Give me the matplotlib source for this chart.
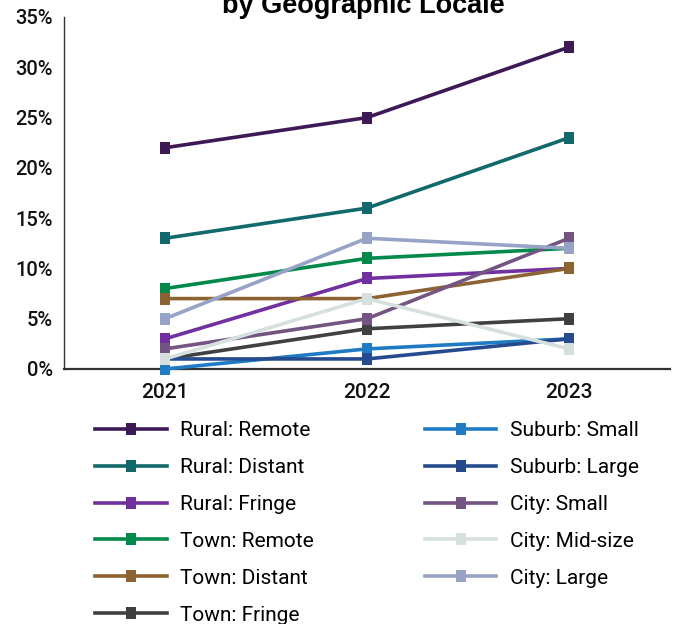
import matplotlib
matplotlib.use("Agg")
import matplotlib.pyplot as plt

plt.rcParams['font.family'] = ['Roboto', 'DejaVu Sans']

years = ["2021", "2022", "2023"]
series_names = ["Rural: Remote", "Rural: Distant", "Rural: Fringe", "Town: Remote",
                "Town: Distant", "Town: Fringe", "Suburb: Small", "Suburb: Large",
                "City: Small", "City: Mid-size", "City: Large"]
rural_remote = [22, 25, 32]
rural_distant = [13, 16, 23]
rural_fringe = [3, 9, 10]
town_remote = [8, 11, 12]
town_distant = [7, 7, 10]
town_fringe = [1, 4, 5]
suburb_small = [0, 2, 3]
suburb_large = [1, 1, 3]
city_small = [2, 5, 13]
city_midsize = [1, 7, 2]
city_large = [5, 13, 12]
values = [rural_remote, rural_distant, rural_fringe, town_remote, town_distant,
          town_fringe, suburb_small, suburb_large, city_small, city_midsize, city_large]
colors = ["#3d1a56", "#12696b", "#7030a0", "#00894b", "#8c6332", "#404040",
          "#1f7bc4", "#254b8e", "#735482", "#d6e0de", "#97a3c6"]
yticks = [0, 5, 10, 15, 20, 25, 30, 35]

fig = plt.figure(figsize=(6.75, 6.24), dpi=100)
ax = fig.add_axes([64/675, 1-369/624, (670-64)/675, (369-17)/624])

rect = [(-0.38, -0.5), (0.38, -0.5), (0.38, 0.5), (-0.38, 0.5), (-0.38, -0.5)]
x = list(range(len(years)))
handles = []
for name, vals, c in zip(series_names, values, colors):
    h, = ax.plot(x, vals, color=c, lw=2.6, marker=rect, markersize=8.6,
                 markeredgewidth=0, label=name, clip_on=False, zorder=3)
    handles.append(h)

ax.set_xlim(-0.5, 2.5)
ax.set_ylim(0, 35)
ax.set_xticks(x)
ax.set_xticklabels(years)
ax.set_yticks(yticks)
ax.set_yticklabels([f"{v}%" for v in yticks])
ax.tick_params(axis='both', length=0)
ax.tick_params(axis='y', pad=8, labelsize=14.5)
ax.tick_params(axis='x', pad=10, labelsize=15)
for lab in ax.get_xticklabels() + ax.get_yticklabels():
    lab.set_fontweight('medium')
    lab.set_color('#111111')

for s in ['top', 'right']:
    ax.spines[s].set_visible(False)
ax.spines['left'].set_color('#333333')
ax.spines['left'].set_linewidth(1.0)
ax.spines['bottom'].set_color('#333333')
ax.spines['bottom'].set_linewidth(1.6)

fig.text(363/675, 1 - 13/624, "by Geographic Locale", ha='center', va='baseline',
         fontsize=19.5, fontweight='bold', family=['Liberation Sans', 'DejaVu Sans'],
         color='#000000')

leg = fig.legend(handles=handles, ncol=2, loc='upper left',
                 bbox_to_anchor=(95/675, 1 - 421/624), frameon=False,
                 fontsize=15, handlelength=3.45, handletextpad=0.65,
                 columnspacing=5.3, labelspacing=0.86, borderpad=0,
                 borderaxespad=0)

fig.savefig("out.png", dpi=100)
